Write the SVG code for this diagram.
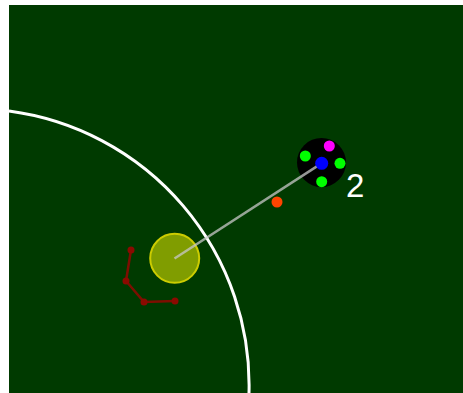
<svg xmlns="http://www.w3.org/2000/svg" width="463" height="393" viewBox="0 0 463 393">
<style>
.dot{stroke:none}
.trail{fill:none;stroke:#8b0a00;stroke-width:2.5;stroke-opacity:0.9}
.tdot{fill:#8b0a00}
</style>
<rect x="0" y="0" width="463" height="393" fill="#ffffff"/>
<rect x="9" y="5" width="454" height="388" fill="#003a00"/>
<g id="boundary">
<path d="M9,111 A276.5,276.5 0 0 1 249,393" fill="none" stroke="#ffffff" stroke-width="3"/>
</g>
<g id="trail">
<polyline class="trail" points="131,250 126,281 144,302 175,301"/>
<circle class="tdot" cx="131" cy="250" r="3.5"/>
<circle class="tdot" cx="126" cy="281" r="3.5"/>
<circle class="tdot" cx="144" cy="302" r="3.5"/>
<circle class="tdot" cx="175" cy="301" r="3.5"/>
</g>
<g id="ball">
<circle cx="174.7" cy="258.3" r="24.5" fill="#ffff00" fill-opacity="0.5" stroke="#cccc00" stroke-width="2"/>
</g>
<g id="orange">
<circle class="dot" cx="277" cy="202" r="5.5" fill="#ff4400"/>
</g>
<g id="robot2">
<circle cx="321.5" cy="162.5" r="24.5" fill="#000000"/>
<circle class="dot" cx="329.3" cy="146" r="5.5" fill="#ff00ff"/>
<circle class="dot" cx="305.3" cy="156" r="5.5" fill="#00ff00"/>
<circle class="dot" cx="340" cy="163.3" r="5.5" fill="#00ff00"/>
<circle class="dot" cx="321.7" cy="181.7" r="5.5" fill="#00ff00"/>
<circle class="dot" cx="321.7" cy="163.3" r="6.5" fill="#0000ff"/>
<text x="346" y="197" font-family="Liberation Sans, Arial, sans-serif" font-size="33" fill="#ffffff">2</text>
</g>
<g id="connectors">
<line x1="174.5" y1="258.5" x2="316.5" y2="166.6" stroke="#c8c8c8" stroke-opacity="0.75" stroke-width="2.5"/>
</g>
</svg>
